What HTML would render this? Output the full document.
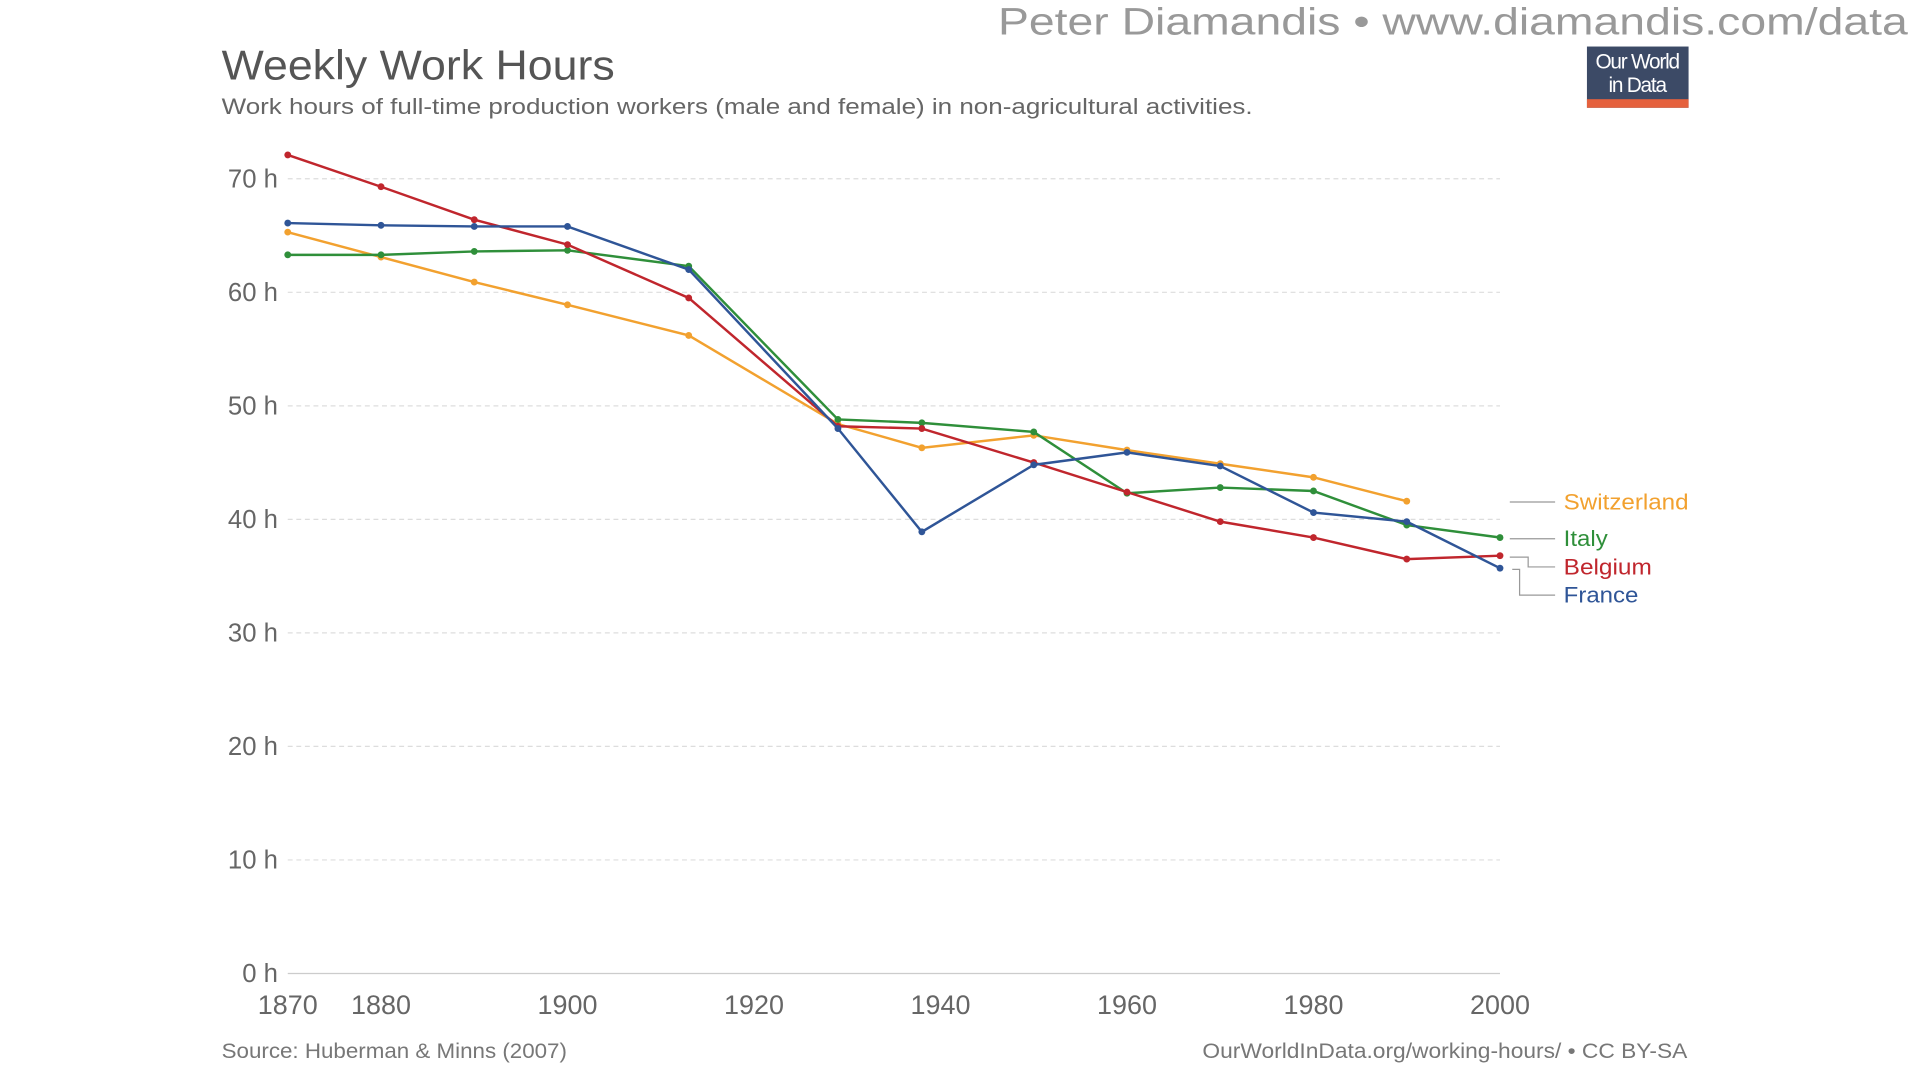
<!DOCTYPE html>
<html><head><meta charset="utf-8"><style>
html,body{margin:0;padding:0;background:#fff;width:1920px;height:1080px;overflow:hidden}
svg{display:block;font-family:"Liberation Sans",sans-serif}
</style></head><body>
<svg id="chart" width="1920" height="1080" viewBox="0 0 1568 882" xmlns="http://www.w3.org/2000/svg">
<text x="815" y="28" textLength="743" lengthAdjust="spacingAndGlyphs" font-size="31" fill="#999">Peter Diamandis  •  www.diamandis.com/data</text>
<text x="181" y="65" textLength="321" lengthAdjust="spacingAndGlyphs" font-size="34" fill="#555">Weekly Work Hours</text>
<text x="181" y="93" textLength="842" lengthAdjust="spacingAndGlyphs" font-size="18" fill="#666">Work hours of full-time production workers (male and female) in non-agricultural activities.</text>
<g>
<rect x="1296" y="38" width="83" height="50" fill="#3c4a66"/>
<rect x="1296" y="81" width="83" height="7" fill="#e5613d"/>
<text x="1337" y="56" text-anchor="middle" font-size="17" fill="#fff" letter-spacing="-1">Our World</text>
<text x="1337" y="75" text-anchor="middle" font-size="17" fill="#fff" letter-spacing="-1">in Data</text>
</g>
<g id="grid"></g><g id="axes"></g><g id="series"></g><g id="legend"></g>
<text x="181" y="864" textLength="282" lengthAdjust="spacingAndGlyphs" font-size="17" fill="#777">Source: Huberman &amp; Minns (2007)</text>
<text x="982" y="864" textLength="396" lengthAdjust="spacingAndGlyphs" font-size="17" fill="#777">OurWorldInData.org/working-hours/ • CC BY-SA</text>
</svg>
<script>
const years = [1870,1880,1890,1900,1913,1929,1938,1950,1960,1970,1980,1990,2000];
const belgium = [72.1,69.3,66.4,64.2,59.5,48.2,48.0,45.0,42.4,39.8,38.4,36.5,36.8];
const france = [66.1,65.9,65.8,65.8,62.0,48.0,38.9,44.8,45.9,44.7,40.6,39.8,35.7];
const italy = [63.3,63.3,63.6,63.7,62.3,48.8,48.5,47.7,42.3,42.8,42.5,39.5,38.4];
const switzerland = [65.3,63.1,60.9,58.9,56.2,48.4,46.3,47.4,46.1,44.9,43.7,41.6,null];
const yTicks = [0,10,20,30,40,50,60,70];
const xTicks = [1870,1880,1900,1920,1940,1960,1980,2000];
const NS="http://www.w3.org/2000/svg";
const x0=235,x1=1225,y0=795,y70=146;
const xs=v=>x0+(v-1870)*(x1-x0)/130;
const ys=v=>y0-v*(y0-y70)/70;
function mk(tag,attrs,parent){const e=document.createElementNS(NS,tag);for(const k in attrs)e.setAttribute(k,attrs[k]);parent.appendChild(e);return e;}
const grid=document.getElementById('grid'),axes=document.getElementById('axes'),ser=document.getElementById('series'),leg=document.getElementById('legend');
yTicks.forEach(t=>{
  const l=mk('line',{x1:x0,x2:x1,y1:ys(t),y2:ys(t),stroke:t===0?'#ccc':'#ddd','stroke-dasharray':t===0?'':'4,3'},grid);
  
  
  const tx=mk('text',{x:227,y:ys(t)+7,'text-anchor':'end','font-size':21,fill:'#666'},axes);
  tx.textContent=t+' h';
  
  
});
xTicks.forEach(t=>{
  const tx=mk('text',{x:xs(t),y:828,'text-anchor':'middle','font-size':22,fill:'#666'},axes);
  tx.textContent=t;
  
  
});
const S=[['Switzerland',switzerland,'#f2a12f'],['Italy',italy,'#2f8f3a'],['Belgium',belgium,'#c0262d'],['France',france,'#2f5597']];
S.forEach(([n,d,c])=>{
  const g=mk('g',{},ser);
  
  
  let p='';d.forEach((v,i)=>{if(v!=null)p+=(p?'L':'M')+xs(years[i])+','+ys(v);});
  mk('path',{d:p,fill:'none',stroke:c,'stroke-width':2},g);
  d.forEach((v,i)=>{if(v!=null){const ci=mk('circle',{cx:xs(years[i]),cy:ys(v),r:2.8,fill:c},g);
    
    }});
});
const labels=[['Switzerland','#f2a12f',410,102,'M1233,410L1270,410'],['Italy','#2f8f3a',440,36,'M1233,440L1270,440'],['Belgium','#c0262d',463,72,'M1233,455L1248,455L1248,463L1270,463'],['France','#2f5597',486,61,'M1235,465L1241,465L1241,486L1270,486']];
labels.forEach(([n,c,y,w,p])=>{
  const g=mk('g',{},leg);
  
  
  mk('path',{d:p,fill:'none',stroke:'#999','stroke-width':1},g);
  const t=mk('text',{x:1277,y:y+6,'font-size':18,fill:c,textLength:w,lengthAdjust:'spacingAndGlyphs'},g);t.textContent=n;
});
</script>
</body></html>
